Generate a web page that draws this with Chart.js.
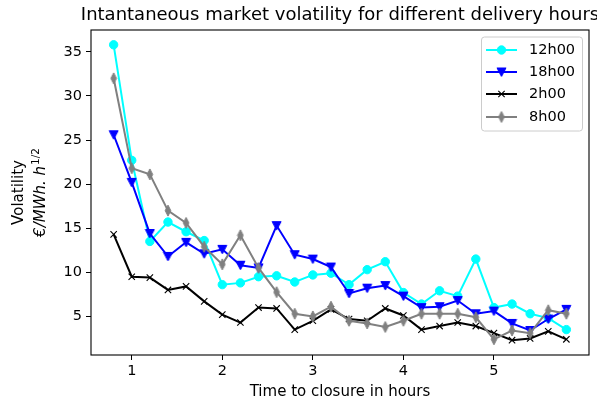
<!DOCTYPE html>
<html>
<head>
<meta charset="utf-8">
<script src="https://cdn.jsdelivr.net/npm/chart.js@4/dist/chart.umd.min.js"></script>
<style>
  html, body { margin: 0; padding: 0; background: #ffffff; }
  #wrap { width: 597px; height: 405px; }
</style>
</head>
<body>
<div id="wrap"><canvas id="chart" width="597" height="405"></canvas></div>
<script>
// Hours remaining before gate closure (x axis)
const hoursToClose = [0.8, 1.0, 1.2, 1.4, 1.6, 1.8, 2.0, 2.2, 2.4, 2.6, 2.8, 3.0, 3.2,
                      3.4, 3.6, 3.8, 4.0, 4.2, 4.4, 4.6, 4.8, 5.0, 5.2, 5.4, 5.6, 5.8];

// Instantaneous volatility per delivery hour
const vol12h = [35.8, 22.7, 13.5, 15.7, 14.6, 13.6, 8.6, 8.8, 9.5, 9.6, 8.9, 9.7, 9.9,
                8.6, 10.3, 11.2, 7.7, 6.4, 7.9, 7.3, 11.5, 6.0, 6.4, 5.3, 4.8, 3.5];
const vol18h = [25.6, 20.2, 14.4, 11.8, 13.4, 12.1, 12.6, 10.8, 10.5, 15.3, 12.0, 11.5, 10.6,
                7.6, 8.2, 8.5, 7.3, 6.0, 6.1, 6.8, 5.3, 5.6, 4.2, 3.4, 4.7, 5.8];
const vol2h  = [14.3, 9.5, 9.4, 8.0, 8.4, 6.7, 5.2, 4.3, 6.0, 5.9, 3.5, 4.5, 5.8,
                4.7, 4.5, 5.9, 5.1, 3.5, 3.9, 4.3, 3.9, 3.1, 2.3, 2.5, 3.3, 2.4];
const vol8h  = [32.0, 21.8, 21.1, 17.0, 15.6, 12.9, 10.9, 14.2, 10.5, 7.75, 5.3, 5.0, 6.1,
                4.5, 4.2, 3.8, 4.5, 5.3, 5.3, 5.3, 4.9, 2.4, 3.4, 3.1, 5.7, 5.3];

const seriesNames = ['12h00', '18h00', '2h00', '8h00'];
const xTickValues = [1, 2, 3, 4, 5];
const yTickValues = [5, 10, 15, 20, 25, 30, 35];

const chartTitle = 'Intantaneous market volatility for different delivery hours';
const xAxisTitle = 'Time to closure in hours';
const yAxisTitle = 'Volatility';
const yAxisUnit = '€/MWh. h';
const yAxisUnitExp = '1/2';

const FONT = '"DejaVu Sans", sans-serif';

// Marker sprites for the triangle-down and thin-diamond series
function makeSprite(w, h, color, pathFn) {
  const c = document.createElement('canvas');
  c.width = w; c.height = h;
  const g = c.getContext('2d');
  g.fillStyle = color; g.strokeStyle = color; g.lineWidth = 1;
  g.beginPath(); pathFn(g, w, h); g.closePath(); g.fill(); g.stroke();
  return c;
}
const triDown = makeSprite(11, 11, '#0000ff', (g, w, h) => {
  g.moveTo(1, 1.5); g.lineTo(w - 1, 1.5); g.lineTo(w / 2, h - 1);
});
const thinDiamond = makeSprite(8, 13, '#808080', (g, w, h) => {
  g.moveTo(w / 2, 1); g.lineTo(w - 1.2, h / 2); g.lineTo(w / 2, h - 1); g.lineTo(1.2, h / 2);
});

function pts(values) { return values.map((v, i) => ({ x: hoursToClose[i], y: v })); }

const datasets = [
  { label: seriesNames[0], data: pts(vol12h), borderColor: '#00ffff', backgroundColor: '#00ffff',
    pointStyle: 'circle', pointRadius: 4.2, pointBorderWidth: 1, order: 4 },
  { label: seriesNames[1], data: pts(vol18h), borderColor: '#0000ff', backgroundColor: '#0000ff',
    pointStyle: triDown, pointRadius: 5, order: 3 },
  { label: seriesNames[2], data: pts(vol2h), borderColor: '#000000', backgroundColor: '#000000',
    pointStyle: 'crossRot', pointRadius: 4.5, pointBorderWidth: 1.1, order: 2 },
  { label: seriesNames[3], data: pts(vol8h), borderColor: '#808080', backgroundColor: '#808080',
    pointStyle: thinDiamond, pointRadius: 6, order: 1 }
].map(d => Object.assign({ borderWidth: 2, tension: 0, fill: false, pointHoverRadius: d.pointRadius }, d));

// Axes frame, title, rotated y label and legend box
const decorations = {
  id: 'decorations',
  afterDraw(chart) {
    const ctx = chart.ctx;
    const a = chart.chartArea;
    ctx.save();
    ctx.strokeStyle = '#000000';
    ctx.lineWidth = 1.1;
    ctx.strokeRect(a.left, a.top, a.right - a.left, a.bottom - a.top);

    ctx.fillStyle = '#000000';
    ctx.textAlign = 'center';
    ctx.textBaseline = 'middle';
    ctx.font = '18px ' + FONT;
    ctx.fillText(chartTitle, (a.left + a.right) / 2, 15);

    ctx.font = '15px ' + FONT;
    ctx.fillText(xAxisTitle, (a.left + a.right) / 2, 392);

    // y axis title: two rotated lines
    const yc = (a.top + a.bottom) / 2;
    ctx.save();
    ctx.translate(19, yc);
    ctx.rotate(-Math.PI / 2);
    ctx.fillText(yAxisTitle, 0, 0);
    ctx.restore();

    ctx.save();
    ctx.translate(41, yc);
    ctx.rotate(-Math.PI / 2);
    ctx.font = 'italic 15px ' + FONT;
    const w1 = ctx.measureText(yAxisUnit).width;
    ctx.font = '10.5px ' + FONT;
    const w2 = ctx.measureText(yAxisUnitExp).width;
    const x0 = -(w1 + w2 + 1) / 2;
    ctx.textAlign = 'left';
    ctx.font = 'italic 15px ' + FONT;
    ctx.fillText(yAxisUnit, x0, 0);
    ctx.font = '10.5px ' + FONT;
    ctx.fillText(yAxisUnitExp, x0 + w1 + 1, -5);
    ctx.restore();

    // legend
    const bx = 481.5, by = 37, bw = 101, bh = 94;
    ctx.beginPath();
    ctx.roundRect(bx, by, bw, bh, 3);
    ctx.fillStyle = 'rgba(255,255,255,0.8)';
    ctx.fill();
    ctx.strokeStyle = '#cccccc';
    ctx.lineWidth = 1;
    ctx.stroke();

    const rows = [50, 72, 94, 117];
    chart.data.datasets.forEach((ds, i) => {
      const y = rows[i];
      ctx.strokeStyle = ds.borderColor;
      ctx.lineWidth = 2;
      ctx.beginPath(); ctx.moveTo(486, y); ctx.lineTo(517, y); ctx.stroke();
      const ps = ds.pointStyle;
      if (typeof ps === 'string') {
        ctx.fillStyle = ds.backgroundColor;
        ctx.strokeStyle = ds.borderColor;
        ctx.lineWidth = ds.pointBorderWidth || 1;
        Chart.helpers.drawPoint(ctx, { pointStyle: ps, rotation: 0, borderWidth: ctx.lineWidth, radius: ds.pointRadius }, 501.5, y);
      } else {
        ctx.drawImage(ps, 501.5 - ps.width / 2, y - ps.height / 2);
      }
      ctx.fillStyle = '#000000';
      ctx.textAlign = 'left';
      ctx.textBaseline = 'middle';
      ctx.font = '14.5px ' + FONT;
      ctx.fillText(ds.label, 529, y);
    });
    ctx.restore();
  }
};

new Chart(document.getElementById('chart'), {
  type: 'line',
  data: { datasets },
  options: {
    responsive: false,
    devicePixelRatio: 1,
    animation: false,
    events: [],
    layout: { padding: { left: 0, top: 30, right: 7, bottom: 0 } },
    plugins: { legend: { display: false }, title: { display: false }, tooltip: { enabled: false } },
    scales: {
      x: {
        type: 'linear',
        min: 0.55, max: 6.05,
        afterFit: s => { s.height = 50; },
        afterBuildTicks: s => { s.ticks = xTickValues.map(v => ({ value: v })); },
        grid: { display: true, drawOnChartArea: false, drawTicks: true, tickLength: 5, color: '#000000', lineWidth: 1 },
        border: { display: false },
        ticks: { color: '#000000', font: { family: FONT, size: 14.5 }, padding: 3, maxRotation: 0,
                 callback: v => String(v) }
      },
      y: {
        type: 'linear',
        min: 0.62, max: 37.48,
        afterFit: s => { s.width = 91; },
        afterBuildTicks: s => { s.ticks = yTickValues.map(v => ({ value: v })); },
        grid: { display: true, drawOnChartArea: false, drawTicks: true, tickLength: 5, color: '#000000', lineWidth: 1 },
        border: { display: false },
        ticks: { color: '#000000', font: { family: FONT, size: 14.5 }, padding: 4,
                 callback: v => String(v) }
      }
    }
  },
  plugins: [decorations]
});
</script>
</body>
</html>
